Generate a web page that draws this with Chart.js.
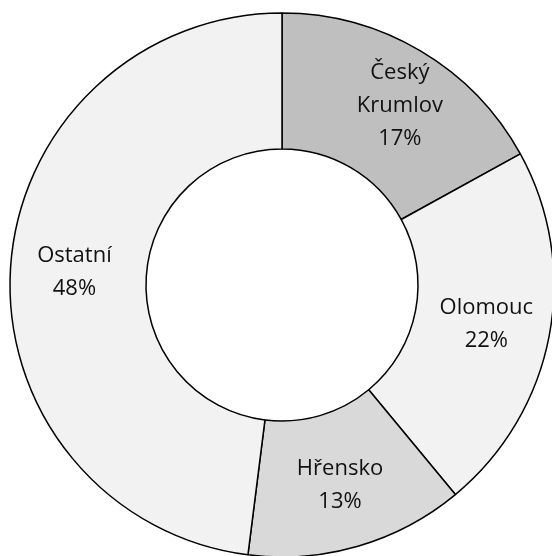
<!DOCTYPE html>
<html>
<head>
  <title>Doughnut</title>
  <script src="https://cdn.jsdelivr.net/npm/chart.js"></script>
  <style>
    html, body { margin: 0; padding: 0; background: #fff; overflow: hidden; }
    #wrap { position: absolute; left: 0; top: 0; width: 564px; height: 570px; }
  </style>
</head>
<body>
  <div id="wrap">
    <canvas id="canvas"></canvas>
  </div>
  <script>
    var labels = [['Český', 'Krumlov'], ['Olomouc'], ['Hřensko'], ['Ostatní']];
    var shares = [17, 22, 13, 48];
    var colors = ['#bfbfbf', '#f2f2f2', '#d9d9d9', '#f2f2f2'];

    // draw the label + percentage in the middle of each ring segment
    var sliceLabels = {
      id: 'sliceLabels',
      afterDatasetsDraw: function(chart) {
        var ctx = chart.ctx;
        var meta = chart.getDatasetMeta(0);
        ctx.save();
        ctx.font = '22px "Open Sans", sans-serif';
        ctx.fillStyle = '#111';
        ctx.textAlign = 'center';
        ctx.textBaseline = 'middle';
        meta.data.forEach(function(arc, i) {
          var p = arc.getProps(['x', 'y', 'startAngle', 'endAngle', 'innerRadius', 'outerRadius']);
          var mid = (p.startAngle + p.endAngle) / 2;
          var r = (p.innerRadius + p.outerRadius) / 2 + 4;
          var cx = p.x + Math.cos(mid) * r;
          var cy = p.y + Math.sin(mid) * r;
          if (i === 0) cx += 12; // excel nudges this one outward a bit
          var lines = labels[i].concat([shares[i] + '%']);
          var lh = 33;
          var y0 = cy - (lines.length - 1) * lh / 2;
          lines.forEach(function(t, k) {
            ctx.fillText(t, cx, y0 + k * lh);
          });
        });
        ctx.restore();
      }
    };

    var ctx = document.getElementById('canvas').getContext('2d');
    var chart = new Chart(ctx, {
      type: 'doughnut',
      data: {
        labels: labels.map(function(l) { return l.join(' '); }),
        datasets: [{
          data: shares,
          backgroundColor: colors,
          borderColor: '#000',
          borderWidth: 1.5,
          hoverOffset: 0
        }]
      },
      options: {
        responsive: true,
        maintainAspectRatio: false,
        animation: false,
        radius: 272,
        cutout: '50%',
        layout: { padding: 10 },
        plugins: {
          legend: { display: false },
          tooltip: { enabled: false }
        }
      },
      plugins: [sliceLabels]
    });
  </script>
</body>
</html>
